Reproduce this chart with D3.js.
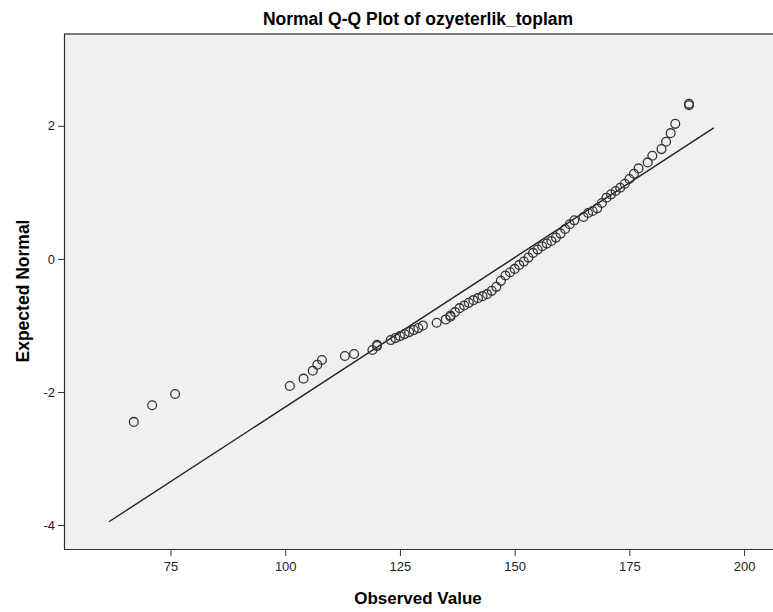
<!DOCTYPE html>
<html><head><meta charset="utf-8">
<script src="https://cdn.jsdelivr.net/npm/d3@7"></script>
<style>body{margin:0;background:#fff;} svg{display:block;}</style>
</head><body>
<svg id="c" width="773" height="612"></svg>
<script>
const observed = [67,71,76,101,104,106,107,108,113,115,119,120,120,123,124,125,126,127,128,129,130,133,135,136,136,137,138,139,140,141,142,143,144,145,146,147,148,149,150,151,152,153,154,155,156,157,158,159,160,161,162,163,165,166,167,168,169,170,171,172,173,174,175,176,177,179,180,182,183,184,185,188,188];
const expected = [-2.45,-2.20,-2.03,-1.91,-1.80,-1.68,-1.59,-1.52,-1.46,-1.43,-1.37,-1.31,-1.29,-1.22,-1.19,-1.16,-1.13,-1.10,-1.07,-1.04,-1.00,-0.96,-0.91,-0.87,-0.85,-0.80,-0.74,-0.70,-0.66,-0.62,-0.59,-0.56,-0.53,-0.48,-0.42,-0.33,-0.25,-0.20,-0.15,-0.09,-0.04,0.02,0.09,0.14,0.19,0.23,0.27,0.32,0.38,0.45,0.52,0.58,0.63,0.69,0.72,0.76,0.84,0.92,0.97,1.02,1.07,1.13,1.20,1.28,1.36,1.45,1.55,1.65,1.76,1.89,2.03,2.31,2.33];
const lineObserved = [61.6, 193.4];
const lineExpected = [-3.95, 1.97];
const xTicks = [75,100,125,150,175,200];
const yTicks = [-4,-2,0,2];
const title = "Normal Q-Q Plot of ozyeterlik_toplam";
const xLabel = "Observed Value";
const yLabel = "Expected Normal";

const svg = d3.select("#c");
const L = 64, T = 34, R = 775, B = 549;
const x = d3.scaleLinear().domain([51.79, 206.3]).range([L, 773]);
const y = d3.scaleLinear().domain([-4.36, 3.38]).range([B, T]);

svg.append("rect").attr("x", L).attr("y", T).attr("width", R - L).attr("height", B - T)
  .attr("fill", "#f0f0f0");
svg.append("line").attr("x1", L).attr("x2", R).attr("y1", T).attr("y2", T)
  .attr("stroke", "#7a7a7a").attr("stroke-width", 2);
svg.append("line").attr("x1", L + 0.5).attr("x2", L + 0.5).attr("y1", T).attr("y2", B)
  .attr("stroke", "#333").attr("stroke-width", 1.2);
svg.append("line").attr("x1", L).attr("x2", R).attr("y1", B + 0.5).attr("y2", B + 0.5)
  .attr("stroke", "#333").attr("stroke-width", 1.2);

const font = "'Liberation Sans', Arial, sans-serif";
const xAxis = svg.append("g").attr("transform", `translate(0,${B + 1})`)
  .call(d3.axisBottom(x).tickValues(xTicks).tickSize(6).tickPadding(6).tickFormat(d => String(d)));
const yAxis = svg.append("g").attr("transform", `translate(${L},0)`)
  .call(d3.axisLeft(y).tickValues(yTicks).tickSize(6).tickPadding(3).tickFormat(d => String(d)));
[xAxis, yAxis].forEach(g => {
  g.select(".domain").remove();
  g.selectAll(".tick line").attr("stroke", "#333");
  g.selectAll(".tick text").attr("fill", "#222").style("font-family", font).style("font-size", "13px");
});

svg.append("line")
  .attr("x1", x(lineObserved[0])).attr("y1", y(lineExpected[0]))
  .attr("x2", x(lineObserved[1])).attr("y2", y(lineExpected[1]))
  .attr("stroke", "#222").attr("stroke-width", 1.4);

svg.append("g").selectAll("circle").data(observed.map((v, i) => [v, expected[i]]))
  .join("circle")
  .attr("cx", d => x(d[0])).attr("cy", d => y(d[1])).attr("r", 4.4)
  .attr("fill", "none").attr("stroke", "#333").attr("stroke-width", 1.3);

svg.append("text").attr("x", 418).attr("y", 25).attr("text-anchor", "middle")
  .style("font-family", font).style("font-size", "17.5px").style("font-weight", "bold").attr("fill", "#000").text(title);
svg.append("text").attr("x", 418).attr("y", 604).attr("text-anchor", "middle")
  .style("font-family", font).style("font-size", "17px").style("font-weight", "bold").attr("fill", "#000").text(xLabel);
svg.append("text").attr("transform", "translate(29,291) rotate(-90)").attr("text-anchor", "middle")
  .style("font-family", font).style("font-size", "17.5px").style("font-weight", "bold").attr("fill", "#000").text(yLabel);
</script>
</body></html>
